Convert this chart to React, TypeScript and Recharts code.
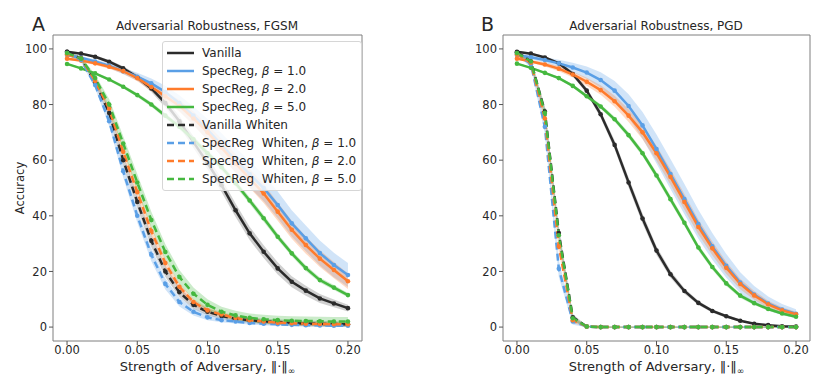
import React from "react";
import { ComposedChart, Line, Area, XAxis, YAxis, ReferenceArea } from "recharts";

const FONT = "'DejaVu Sans', sans-serif";
const INK = "#262626";

// attack strength, 0.00 .. 0.20
const EPS = [0, 0.01, 0.02, 0.03, 0.04, 0.05, 0.06, 0.07, 0.08, 0.09, 0.1, 0.11, 0.12, 0.13, 0.14, 0.15, 0.16, 0.17, 0.18, 0.19, 0.2];
const X_TICKS = [0, 0.05, 0.1, 0.15, 0.2];
const Y_TICKS = [0, 20, 40, 60, 80, 100];

// FGSM accuracy
const FGSM_VANILLA = [99, 98.3, 97.2, 95.4, 93, 89.8, 85.8, 80.5, 74, 66.5, 59, 51, 42, 33.7, 27.1, 21.1, 16.3, 13.1, 10.3, 8.5, 6.8];
const FGSM_B1 = [97.8, 96.8, 95.5, 94, 92, 90, 87.6, 84.5, 80.5, 76, 71, 65.5, 60, 55, 50, 43.9, 37.3, 31.9, 26.6, 22.3, 18.7];
const FGSM_B2 = [96.5, 95.8, 94.8, 93.6, 92, 89.5, 86.3, 83, 79.5, 75, 70, 64.5, 58.8, 53.5, 48, 41.5, 35, 29.5, 24.6, 20.5, 16.5];
const FGSM_B5 = [94.6, 93, 91.2, 89, 86.4, 83.4, 80, 76, 72, 67.5, 62.5, 57.5, 51.7, 45.5, 39.1, 32.5, 26.5, 21.2, 16.9, 14.2, 11.5];
const FGSM_W_VANILLA = [99, 96.5, 88, 77, 60, 45, 31, 20, 12.5, 8, 5.5, 4, 3, 2.5, 2, 1.8, 1.5, 1.3, 1.2, 1.1, 1];
const FGSM_W_B1 = [98.5, 96, 87, 74, 56, 40, 26, 15.5, 9, 5.5, 3.5, 2.5, 2, 1.5, 1.2, 1, 0.8, 0.7, 0.6, 0.5, 0.5];
const FGSM_W_B2 = [98, 96.5, 88.5, 78.5, 63, 48.5, 34.5, 23, 14.5, 9, 6, 4.5, 3.3, 2.5, 2, 1.6, 1.4, 1.2, 1.1, 1, 1];
const FGSM_W_B5 = [98.5, 96.5, 89.5, 80, 66, 52, 38.5, 27, 18, 12, 8, 5.5, 4.2, 3.3, 2.8, 2.5, 2.3, 2.2, 2.1, 2, 2];

// FGSM band half-widths
const FGSM_VANILLA_SD = [0.3, 0.4, 0.5, 0.6, 0.8, 1, 1.3, 1.6, 1.9, 2.1, 2.3, 2.4, 2.4, 2.4, 2.3, 2.2, 2, 1.8, 1.6, 1.4, 1.2];
const FGSM_B1_SD = [0.5, 0.6, 0.7, 0.9, 1.1, 1.4, 1.8, 2.3, 2.8, 3.3, 3.8, 4.2, 4.5, 4.7, 4.8, 4.8, 4.7, 4.6, 4.5, 4.4, 4.3];
const FGSM_B2_SD = [0.4, 0.5, 0.6, 0.7, 0.9, 1.1, 1.4, 1.7, 2.1, 2.5, 2.8, 3.1, 3.3, 3.4, 3.4, 3.3, 3.2, 3.1, 3, 2.9, 2.8];
const FGSM_B5_SD = [0.3, 0.3, 0.4, 0.5, 0.6, 0.7, 0.8, 0.9, 1, 1.1, 1.2, 1.2, 1.2, 1.2, 1.2, 1.1, 1, 1, 0.9, 0.9, 0.8];
const FGSM_W_VANILLA_SD = [0.4, 0.6, 1, 1.5, 2, 2.2, 2.2, 2, 1.7, 1.4, 1.2, 1.1, 1, 1, 1, 1, 1, 1, 1, 1, 1];
const FGSM_W_B1_SD = [0.5, 0.8, 1.2, 1.8, 2.2, 2.4, 2.3, 2, 1.6, 1.3, 1, 0.8, 0.7, 0.6, 0.6, 0.5, 0.5, 0.5, 0.5, 0.5, 0.5];
const FGSM_W_B2_SD = [0.4, 0.6, 0.9, 1.2, 1.5, 1.6, 1.6, 1.5, 1.3, 1.1, 1, 0.9, 0.8, 0.8, 0.8, 0.8, 0.8, 0.8, 0.8, 0.8, 0.8];
const FGSM_W_B5_SD = [0.5, 0.8, 1.3, 2, 2.6, 3, 3, 2.8, 2.5, 2.2, 2, 1.8, 1.7, 1.6, 1.6, 1.6, 1.6, 1.6, 1.6, 1.6, 1.6];

// PGD accuracy
const PGD_VANILLA = [99, 98.3, 96.9, 94.8, 91, 85, 76.5, 65.5, 52, 39, 27.5, 19, 13, 8.7, 5.8, 3.9, 2.3, 1.2, 0.7, 0.3, 0.2];
const PGD_B1 = [97.8, 97, 96, 94.8, 93.3, 91.5, 88.8, 85, 79.5, 72.5, 64, 55, 46, 37, 29, 22, 16, 11.7, 8.5, 6.3, 4.8];
const PGD_B2 = [96.5, 95.5, 94.4, 92.9, 90.8, 88.2, 85.2, 81.2, 76, 70, 62.5, 54, 45, 36, 28.3, 21.3, 15.5, 11.4, 8.2, 6, 4.6];
const PGD_B5 = [94.7, 93.2, 91.4, 89.5, 86.7, 83, 79.3, 74.7, 69, 62.5, 54.5, 46, 37.5, 28.6, 21.6, 15.7, 11.3, 8.6, 6.5, 4.9, 3.7];
const PGD_W_VANILLA = [98.8, 95.5, 77.5, 33.8, 3.5, 0.2, 0, 0, 0, 0, 0, 0, 0, 0, 0, 0, 0, 0, 0, 0, 0];
const PGD_W_B1 = [98.3, 94.5, 72, 21, 2, 0.2, 0, 0, 0, 0, 0, 0, 0, 0, 0, 0, 0, 0, 0, 0, 0];
const PGD_W_B2 = [98, 95, 75, 29, 2.5, 0.2, 0, 0, 0, 0, 0, 0, 0, 0, 0, 0, 0, 0, 0, 0, 0];
const PGD_W_B5 = [98.5, 95.5, 77, 33, 3.2, 0.2, 0, 0, 0, 0, 0, 0, 0, 0, 0, 0, 0, 0, 0, 0, 0];

// PGD band half-widths
const PGD_VANILLA_SD = [0.3, 0.4, 0.5, 0.6, 0.8, 1, 1.3, 1.6, 1.8, 1.8, 1.6, 1.3, 1, 0.8, 0.6, 0.5, 0.4, 0.3, 0.3, 0.2, 0.2];
const PGD_B1_SD = [0.5, 0.7, 1, 1.3, 1.7, 2.2, 2.8, 3.5, 4.2, 4.8, 5.2, 5.4, 5.4, 5.2, 4.8, 4.3, 3.7, 3.1, 2.5, 2, 1.6];
const PGD_B2_SD = [0.4, 0.5, 0.7, 0.9, 1.1, 1.4, 1.7, 2, 2.3, 2.5, 2.7, 2.8, 2.8, 2.7, 2.5, 2.2, 1.9, 1.6, 1.3, 1.1, 0.9];
const PGD_B5_SD = [0.3, 0.3, 0.4, 0.5, 0.6, 0.7, 0.8, 0.9, 1, 1.1, 1.2, 1.2, 1.2, 1.1, 1, 0.9, 0.8, 0.7, 0.6, 0.5, 0.5];
const PGD_W_VANILLA_SD = [0.5, 1, 2, 2.5, 1.2, 0.3, 0.2, 0.2, 0.2, 0.2, 0.2, 0.2, 0.2, 0.2, 0.2, 0.2, 0.2, 0.2, 0.2, 0.2, 0.2];
const PGD_W_B1_SD = [0.6, 1.2, 2.5, 3, 1.2, 0.3, 0.2, 0.2, 0.2, 0.2, 0.2, 0.2, 0.2, 0.2, 0.2, 0.2, 0.2, 0.2, 0.2, 0.2, 0.2];
const PGD_W_B2_SD = [0.5, 0.8, 1.5, 2, 1, 0.3, 0.2, 0.2, 0.2, 0.2, 0.2, 0.2, 0.2, 0.2, 0.2, 0.2, 0.2, 0.2, 0.2, 0.2, 0.2];
const PGD_W_B5_SD = [0.5, 0.8, 1.5, 2, 1, 0.3, 0.2, 0.2, 0.2, 0.2, 0.2, 0.2, 0.2, 0.2, 0.2, 0.2, 0.2, 0.2, 0.2, 0.2, 0.2];

const BLACK = "#2b2b2b";
const BLUE = "#5a9fe6";
const ORANGE = "#ff7b2b";
const GREEN = "#45b83f";

const SERIES = [
  { key: "van", label: "Vanilla", beta: "", color: BLACK, dashed: false },
  { key: "b1", label: "SpecReg, ", beta: "1.0", color: BLUE, dashed: false },
  { key: "b2", label: "SpecReg, ", beta: "2.0", color: ORANGE, dashed: false },
  { key: "b5", label: "SpecReg, ", beta: "5.0", color: GREEN, dashed: false },
  { key: "wvan", label: "Vanilla Whiten", beta: "", color: BLACK, dashed: true },
  { key: "wb1", label: "SpecReg\u00a0 Whiten, ", beta: "1.0", color: BLUE, dashed: true },
  { key: "wb2", label: "SpecReg\u00a0 Whiten, ", beta: "2.0", color: ORANGE, dashed: true },
  { key: "wb5", label: "SpecReg\u00a0 Whiten, ", beta: "5.0", color: GREEN, dashed: true },
];

function buildRows(means: number[][], sds: number[][]) {
  return EPS.map((x, i) => {
    const row: any = { x };
    SERIES.forEach((s, k) => {
      row[s.key] = means[k][i];
      row[s.key + "Band"] = [means[k][i] - sds[k][i], means[k][i] + sds[k][i]];
    });
    return row;
  });
}

const fgsmRows = buildRows(
  [FGSM_VANILLA, FGSM_B1, FGSM_B2, FGSM_B5, FGSM_W_VANILLA, FGSM_W_B1, FGSM_W_B2, FGSM_W_B5],
  [FGSM_VANILLA_SD, FGSM_B1_SD, FGSM_B2_SD, FGSM_B5_SD, FGSM_W_VANILLA_SD, FGSM_W_B1_SD, FGSM_W_B2_SD, FGSM_W_B5_SD],
);
const pgdRows = buildRows(
  [PGD_VANILLA, PGD_B1, PGD_B2, PGD_B5, PGD_W_VANILLA, PGD_W_B1, PGD_W_B2, PGD_W_B5],
  [PGD_VANILLA_SD, PGD_B1_SD, PGD_B2_SD, PGD_B5_SD, PGD_W_VANILLA_SD, PGD_W_B1_SD, PGD_W_B2_SD, PGD_W_B5_SD],
);

const tickStyle = { fontSize: 11.5, fill: INK, fontFamily: FONT };

function Panel({ rows, width, yWidth, right }: { rows: any[]; width: number; yWidth: number; right: number }) {
  return (
    <ComposedChart width={width} height={382} data={rows} margin={{ top: 35, right, bottom: 0, left: 0 }}>
      <XAxis
        type='number'
        dataKey='x'
        domain={[-0.01, 0.21]}
        allowDataOverflow
        ticks={X_TICKS}
        tickFormatter={(v: number) => v.toFixed(2)}
        tick={tickStyle}
        tickSize={4}
        tickMargin={1}
        tickLine={{ stroke: "#555" }}
        axisLine={false}
        height={41}
      />
      <YAxis
        type='number'
        domain={[-5, 105]}
        allowDataOverflow
        ticks={Y_TICKS}
        tick={tickStyle}
        tickSize={4}
        tickMargin={2}
        tickLine={{ stroke: "#555" }}
        axisLine={false}
        width={yWidth}
      />
      {SERIES.map((s) => (
        <Area
          key={s.key + "Band"}
          type='linear'
          dataKey={s.key + "Band"}
          stroke='none'
          fill={s.color}
          fillOpacity={s.color === BLACK ? 0.22 : 0.28}
          isAnimationActive={false}
          dot={false}
          activeDot={false}
        />
      ))}
      {SERIES.map((s) => (
        <Line
          key={s.key}
          type='linear'
          dataKey={s.key}
          stroke={s.color}
          strokeWidth={2.5}
          strokeDasharray={s.dashed ? "7 4" : undefined}
          dot={{ r: 2.3, fill: s.color, stroke: s.color, strokeWidth: 0, strokeDasharray: "" }}
          activeDot={false}
          isAnimationActive={false}
        />
      ))}
      <ReferenceArea x1={-0.01} x2={0.21} y1={-5} y2={105} fillOpacity={0} stroke='#7f7f7f' strokeWidth={1} />
    </ComposedChart>
  );
}

function LegendBox() {
  return (
    <div
      style={{
        position: "absolute",
        left: 162,
        top: 41,
        width: 198,
        padding: "2px 0",
        background: "rgba(255,255,255,0.8)",
        border: "1px solid #d6d6d6",
        borderRadius: 3,
        fontFamily: FONT,
        fontSize: 12,
        color: INK,
      }}
    >
      {SERIES.map((s) => (
        <div key={s.key} style={{ display: "flex", alignItems: "center", height: 18 }}>
          <svg width={39} height={10} style={{ flex: "none" }}>
            <line
              x1={4}
              x2={31}
              y1={5}
              y2={5}
              stroke={s.color}
              strokeWidth={2.5}
              strokeDasharray={s.dashed ? "7 4" : undefined}
            />
          </svg>
          <span style={{ whiteSpace: "pre" }}>
            {s.label}
            {s.beta && (
              <>
                <i>β</i> = {s.beta}
              </>
            )}
          </span>
        </div>
      ))}
    </div>
  );
}

const text = (extra: React.CSSProperties): React.CSSProperties => ({
  position: "absolute",
  fontFamily: FONT,
  color: INK,
  whiteSpace: "nowrap",
  ...extra,
});

function XTitle({ center }: { center: number }) {
  return (
    <div style={text({ left: center - 120, width: 240, top: 360, fontSize: 13, textAlign: "center", lineHeight: "14px" })}>
      Strength of Adversary, ‖·‖<sub style={{ fontSize: 9, verticalAlign: -3 }}>∞</sub>
    </div>
  );
}

export default function App() {
  return (
    <div style={{ position: "absolute", left: 0, top: 0, width: 831, height: 382, background: "#fff", overflow: "hidden" }}>
      <div style={{ position: "absolute", left: 0, top: 0 }}>
        <Panel rows={fgsmRows} width={415} yWidth={53} right={53} />
      </div>
      <div style={{ position: "absolute", left: 420, top: 0 }}>
        <Panel rows={pgdRows} width={411} yWidth={83} right={21} />
      </div>
      <LegendBox />
      <div style={text({ left: 32, top: 13, fontSize: 19 })}>A</div>
      <div style={text({ left: 481, top: 13, fontSize: 19 })}>B</div>
      <div style={text({ left: 57, width: 300, top: 19, fontSize: 12, textAlign: "center" })}>
        Adversarial Robustness, FGSM
      </div>
      <div style={text({ left: 506, width: 300, top: 19, fontSize: 12, textAlign: "center" })}>
        Adversarial Robustness, PGD
      </div>
      <div
        style={text({
          left: 20,
          top: 188,
          fontSize: 11.5,
          lineHeight: "14px",
          transform: "translate(-50%, -50%) rotate(-90deg)",
        })}
      >
        Accuracy
      </div>
      <XTitle center={207.5} />
      <XTitle center={656.5} />
    </div>
  );
}
